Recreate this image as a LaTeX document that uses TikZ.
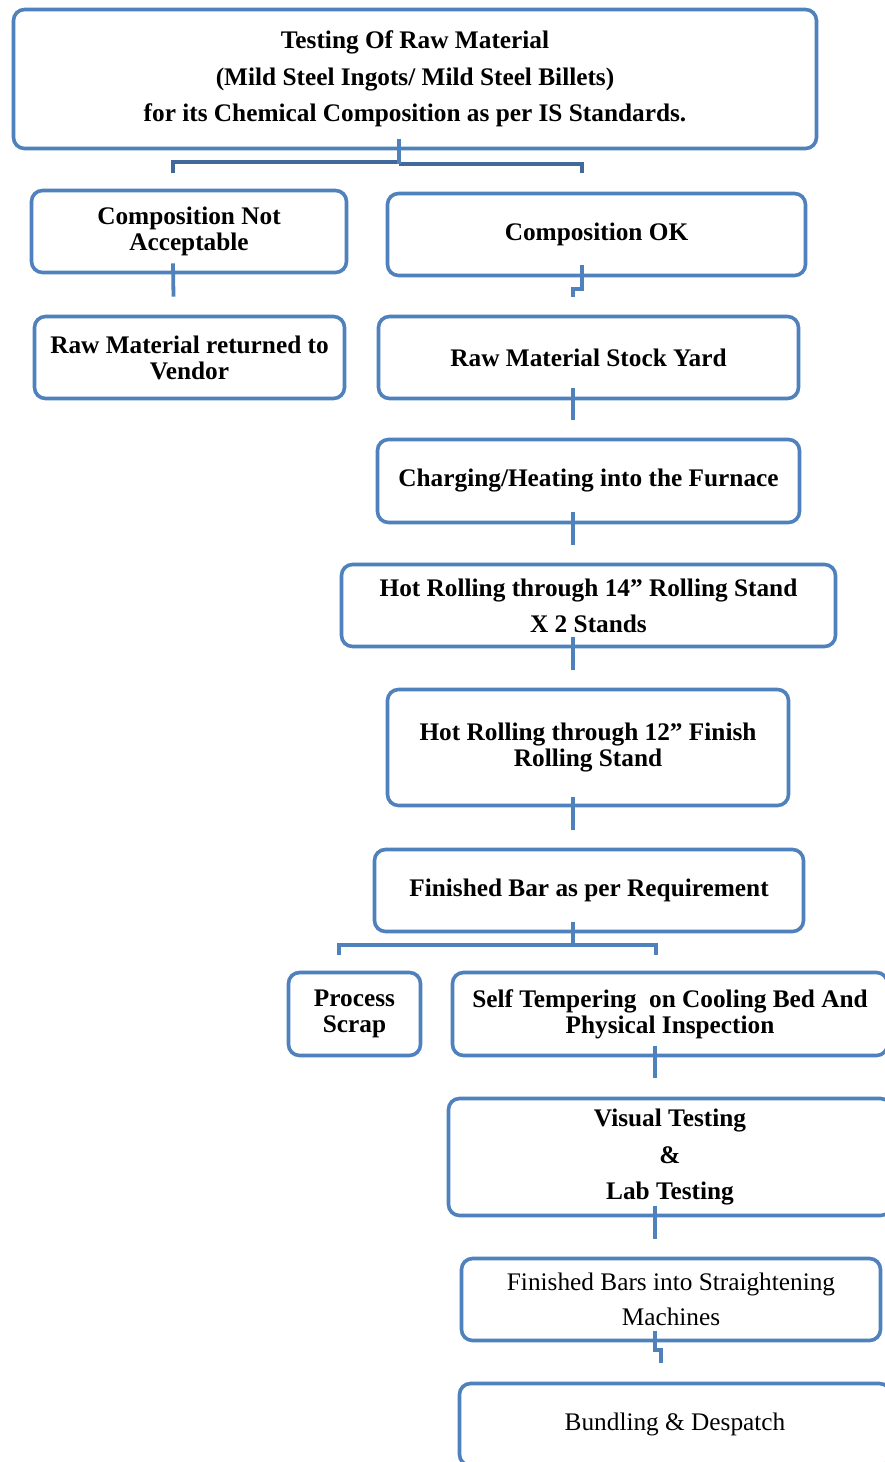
\documentclass[tikz,border=0pt]{standalone}
\usepackage{fontspec}
\setmainfont{Liberation Serif}
\usetikzlibrary{calc}
\definecolor{boxblue}{HTML}{4F81BD}
\definecolor{splitblue}{HTML}{41699A}
\newcommand\bxfont[1]{\fontsize{25.3}{#1}\selectfont\bfseries}
\newcommand\rgfont[1]{\fontsize{25.3}{#1}\selectfont}
\tikzset{
  box/.style={draw=boxblue, line width=3.6pt, rounded corners=11pt, align=center,
    inner sep=0pt, fill=white},
  conn/.style={draw=boxblue, line width=3.8pt},
  splitline/.style={draw=splitblue, line width=3.8pt},
}
\begin{document}
\begin{tikzpicture}[x=1pt,y=-1pt]
\useasboundingbox (0,0) rectangle (885,1462);
\clip (0,0) rectangle (885,1462);
\fill[white] (0,0) rectangle (885,1462);

\node[box, minimum width=803pt, minimum height=139pt, font=\bxfont{36.5}] (top) at (415,79)
  {Testing Of Raw Material\\(Mild Steel Ingots/ Mild Steel Billets)\\for its Chemical Composition as per IS Standards.};
\node[box, minimum width=315pt, minimum height=82pt, font=\bxfont{26}] (cna) at (189,231.5)
  {Composition Not\\Acceptable};
\node[box, minimum width=418pt, minimum height=82pt, font=\bxfont{26}] (cok) at (596.5,234.5)
  {Composition OK};
\node[box, minimum width=310pt, minimum height=82pt, font=\bxfont{26}] (ret) at (189.5,357.5)
  {Raw Material returned to\\Vendor};
\node[box, minimum width=420pt, minimum height=82pt, font=\bxfont{26}] (yard) at (588.5,357.5)
  {Raw Material Stock Yard};
\node[box, minimum width=422pt, minimum height=83pt, font=\bxfont{26}] (charge) at (588.5,481)
  {Charging/Heating into the Furnace};
\node[box, minimum width=494pt, minimum height=82pt, font=\bxfont{36}] (hot14) at (588.5,605.5)
  {Hot Rolling through 14” Rolling Stand\\X 2 Stands};
\node[box, minimum width=401pt, minimum height=116pt, font=\bxfont{26.5}] (hot12) at (588,747.5)
  {Hot Rolling through 12” Finish\\Rolling Stand};
\node[box, minimum width=429pt, minimum height=82pt, font=\bxfont{26}] (fin) at (589,890.5)
  {Finished Bar as per Requirement};
\node[box, minimum width=132pt, minimum height=83pt, font=\bxfont{26}] (scrap) at (354.5,1014)
  {Process\\Scrap};
\node[box, minimum width=435pt, minimum height=83pt, font=\bxfont{26}] (self) at (670,1014)
  {Self Tempering\ \ on Cooling Bed And\\Physical Inspection};
\node[box, minimum width=443pt, minimum height=117pt, font=\bxfont{36.5}] (vis) at (670,1157)
  {Visual Testing\\\&\\Lab Testing};
\node[box, minimum width=419pt, minimum height=82pt, font=\rgfont{35}] (fbs) at (671,1299.5)
  {Finished Bars into Straightening\\Machines};
\node[box, minimum width=431pt, minimum height=82pt, font=\rgfont{26}] (bund) at (675,1424.5)
  {Bundling \& Despatch};

% top split
\coordinate (tS) at ($(top.south)+(-16,-11)$);
\draw[splitline] (tS) -- ++(0,23) -| ($(cna.north)+(-16,-16)$);
\draw[splitline] ($(tS)+(0,25)$) -| ($(cok.north)+(-14.5,-19)$);
\draw[conn] (tS) -- ++(0,25);

% left branch
\draw[conn] ($(cna.south)+(-16,-11)$) -- ($(ret.north)+(-16,-18)$);
% right branch
\draw[conn] ($(cok.south)+(-14.5,-12)$) -- ++(0,24) -| ($(yard.north)+(-15.5,-18)$);
\draw[conn] ($(yard.south)+(-15.5,-12)$) -- ($(charge.north)+(-15.5,-18)$);
\draw[conn] ($(charge.south)+(-15.5,-12)$) -- ($(hot14.north)+(-15.5,-18)$);
\draw[conn] ($(hot14.south)+(-15.5,-11)$) -- ($(hot12.north)+(-15,-18)$);
\draw[conn] ($(hot12.south)+(-15,-10)$) -- ($(fin.north)+(-16,-18)$);

% finished bar split
\coordinate (fS) at ($(fin.south)+(-16,-11)$);
\draw[conn] (fS) -- ++(0,23) -| ($(scrap.north)+(-15.5,-16)$);
\draw[conn] ($(fS)+(0,23)$) -| ($(self.north)+(-14,-16)$);

\draw[conn] ($(self.south)+(-15,-11)$) -- ($(vis.north)+(-15,-19)$);
\draw[conn] ($(vis.south)+(-15,-11)$) -- ($(fbs.north)+(-16,-18)$);
\draw[conn] ($(fbs.south)+(-16,-11)$) -- ++(0,19) -| ($(bund.north)+(-14,-19)$);
\end{tikzpicture}
\end{document}
